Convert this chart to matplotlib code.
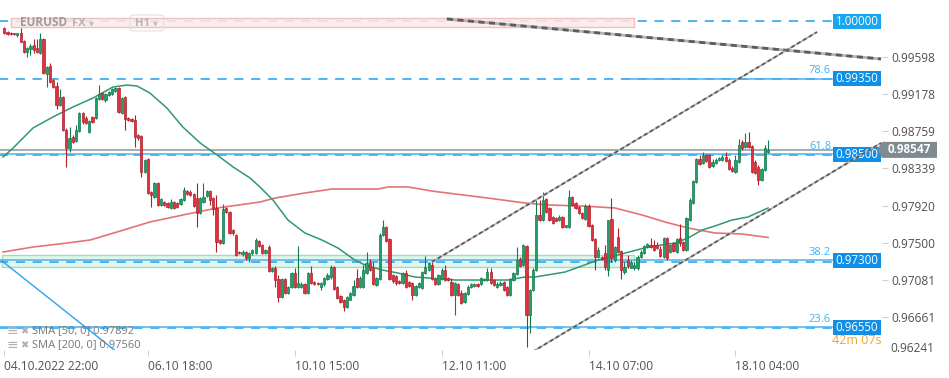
import matplotlib
matplotlib.use('Agg')

import matplotlib.pyplot as plt
import matplotlib.transforms as mtransforms
from matplotlib.patches import Rectangle, Polygon, FancyBboxPatch

plt.rcParams['font.family'] = ['Open Sans', 'DejaVu Sans']

# ---------------------------------------------------------------------------
# EURUSD H1 candles, one entry per hour
# ---------------------------------------------------------------------------
opens = [
    0.9992, 0.9988, 0.9986, 0.9986, 0.9984, 0.9986, 0.9977, 0.9965, 0.9968, 0.9973,
    0.9970, 0.9964, 0.9980, 0.9940, 0.9949, 0.9934, 0.9927, 0.9905, 0.9914, 0.9877,
    0.9857, 0.9869, 0.9865, 0.9876, 0.9896, 0.9891, 0.9875, 0.9892, 0.9891, 0.9912,
    0.9919, 0.9911, 0.9917, 0.9918, 0.9921, 0.9924, 0.9896, 0.9914, 0.9891, 0.9890,
    0.9888, 0.9872, 0.9870, 0.9830, 0.9844, 0.9807, 0.9802, 0.9817, 0.9793, 0.9796,
    0.9795, 0.9789, 0.9796, 0.9795, 0.9794, 0.9798, 0.9808, 0.9807, 0.9805, 0.9801,
    0.9784, 0.9796, 0.9803, 0.9808, 0.9801, 0.9789, 0.9753, 0.9750, 0.9789, 0.9785,
    0.9764, 0.9759, 0.9740, 0.9737, 0.9740, 0.9733, 0.9739, 0.9739, 0.9752, 0.9748,
    0.9739, 0.9745, 0.9718, 0.9722, 0.9709, 0.9689, 0.9709, 0.9693, 0.9700, 0.9716,
    0.9700, 0.9700, 0.9704, 0.9693, 0.9716, 0.9706, 0.9705, 0.9700, 0.9704, 0.9709,
    0.9711, 0.9723, 0.9700, 0.9690, 0.9686, 0.9678, 0.9686, 0.9691, 0.9710, 0.9700,
    0.9700, 0.9716, 0.9727, 0.9722, 0.9702, 0.9709, 0.9759, 0.9768, 0.9754, 0.9714,
    0.9713, 0.9707, 0.9705, 0.9716, 0.9706, 0.9705, 0.9691, 0.9700, 0.9699, 0.9716,
    0.9719, 0.9725, 0.9709, 0.9704, 0.9709, 0.9719, 0.9710, 0.9706, 0.9691, 0.9704,
    0.9693, 0.9683, 0.9692, 0.9700, 0.9701, 0.9704, 0.9704, 0.9708, 0.9708, 0.9717,
    0.9708, 0.9700, 0.9702, 0.9706, 0.9700, 0.9691, 0.9708, 0.9715, 0.9732, 0.9725,
    0.9746, 0.9669, 0.9697, 0.9719, 0.9781, 0.9776, 0.9799, 0.9789, 0.9779, 0.9778,
    0.9776, 0.9779, 0.9768, 0.9768, 0.9802, 0.9795, 0.9790, 0.9784, 0.9777, 0.9792,
    0.9770, 0.9754, 0.9734, 0.9734, 0.9739, 0.9719, 0.9777, 0.9731, 0.9757, 0.9741,
    0.9717, 0.9731, 0.9722, 0.9722, 0.9721, 0.9734, 0.9739, 0.9745, 0.9748, 0.9748,
    0.9748, 0.9743, 0.9734, 0.9755, 0.9740, 0.9750, 0.9740, 0.9755, 0.9751, 0.9742,
    0.9776, 0.9795, 0.9819, 0.9844, 0.9840, 0.9849, 0.9849, 0.9836, 0.9840, 0.9843,
    0.9843, 0.9847, 0.9843, 0.9834, 0.9830, 0.9841, 0.9864, 0.9858, 0.9864, 0.9859,
    0.9841, 0.9835, 0.9821, 0.9832, 0.9852,
]
highs = [
    0.9993, 0.9989, 0.9988, 0.9986, 0.9986, 0.9992, 0.9979, 0.9971, 0.9974, 0.9980,
    0.9980, 0.9986, 0.9981, 0.9949, 0.9953, 0.9935, 0.9931, 0.9923, 0.9915, 0.9879,
    0.9881, 0.9872, 0.9883, 0.9897, 0.9897, 0.9893, 0.9888, 0.9893, 0.9914, 0.9928,
    0.9920, 0.9919, 0.9921, 0.9924, 0.9926, 0.9926, 0.9914, 0.9915, 0.9892, 0.9891,
    0.9894, 0.9873, 0.9872, 0.9844, 0.9846, 0.9808, 0.9819, 0.9819, 0.9801, 0.9797,
    0.9796, 0.9799, 0.9797, 0.9796, 0.9801, 0.9813, 0.9810, 0.9810, 0.9806, 0.9817,
    0.9802, 0.9817, 0.9810, 0.9810, 0.9802, 0.9804, 0.9754, 0.9794, 0.9790, 0.9786,
    0.9766, 0.9760, 0.9741, 0.9742, 0.9741, 0.9740, 0.9743, 0.9755, 0.9753, 0.9749,
    0.9743, 0.9748, 0.9723, 0.9724, 0.9714, 0.9710, 0.9710, 0.9701, 0.9717, 0.9722,
    0.9746, 0.9706, 0.9705, 0.9717, 0.9724, 0.9707, 0.9706, 0.9706, 0.9711, 0.9716,
    0.9725, 0.9724, 0.9701, 0.9691, 0.9687, 0.9690, 0.9695, 0.9708, 0.9720, 0.9713,
    0.9725, 0.9740, 0.9732, 0.9728, 0.9711, 0.9761, 0.9776, 0.9769, 0.9755, 0.9715,
    0.9714, 0.9708, 0.9717, 0.9719, 0.9707, 0.9706, 0.9702, 0.9706, 0.9718, 0.9735,
    0.9728, 0.9728, 0.9710, 0.9715, 0.9722, 0.9725, 0.9711, 0.9710, 0.9706, 0.9705,
    0.9697, 0.9695, 0.9702, 0.9705, 0.9705, 0.9705, 0.9711, 0.9710, 0.9722, 0.9722,
    0.9709, 0.9706, 0.9707, 0.9707, 0.9701, 0.9710, 0.9717, 0.9745, 0.9734, 0.9749,
    0.9748, 0.9698, 0.9722, 0.9798, 0.9798, 0.9807, 0.9801, 0.9790, 0.9780, 0.9779,
    0.9781, 0.9780, 0.9770, 0.9810, 0.9803, 0.9796, 0.9792, 0.9785, 0.9794, 0.9794,
    0.9771, 0.9755, 0.9745, 0.9735, 0.9748, 0.9776, 0.9801, 0.9746, 0.9767, 0.9742,
    0.9728, 0.9736, 0.9731, 0.9728, 0.9736, 0.9742, 0.9748, 0.9750, 0.9755, 0.9753,
    0.9751, 0.9746, 0.9757, 0.9757, 0.9749, 0.9751, 0.9755, 0.9771, 0.9752, 0.9779,
    0.9800, 0.9821, 0.9846, 0.9849, 0.9852, 0.9850, 0.9850, 0.9844, 0.9846, 0.9847,
    0.9849, 0.9852, 0.9846, 0.9837, 0.9849, 0.9867, 0.9866, 0.9874, 0.9875, 0.9860,
    0.9843, 0.9838, 0.9834, 0.9860, 0.9866,
]
lows = [
    0.9985, 0.9984, 0.9984, 0.9984, 0.9982, 0.9976, 0.9964, 0.9959, 0.9962, 0.9964,
    0.9964, 0.9963, 0.9940, 0.9926, 0.9930, 0.9924, 0.9901, 0.9904, 0.9876, 0.9835,
    0.9852, 0.9863, 0.9864, 0.9875, 0.9884, 0.9884, 0.9874, 0.9885, 0.9890, 0.9911,
    0.9911, 0.9909, 0.9915, 0.9917, 0.9920, 0.9896, 0.9895, 0.9877, 0.9887, 0.9886,
    0.9858, 0.9866, 0.9824, 0.9829, 0.9805, 0.9790, 0.9801, 0.9792, 0.9792, 0.9792,
    0.9789, 0.9788, 0.9788, 0.9789, 0.9793, 0.9797, 0.9804, 0.9803, 0.9790, 0.9768,
    0.9782, 0.9795, 0.9802, 0.9793, 0.9781, 0.9740, 0.9749, 0.9749, 0.9784, 0.9760,
    0.9759, 0.9735, 0.9737, 0.9735, 0.9731, 0.9728, 0.9736, 0.9737, 0.9745, 0.9737,
    0.9737, 0.9717, 0.9717, 0.9700, 0.9683, 0.9688, 0.9692, 0.9692, 0.9699, 0.9699,
    0.9699, 0.9699, 0.9692, 0.9692, 0.9704, 0.9702, 0.9702, 0.9697, 0.9701, 0.9708,
    0.9709, 0.9697, 0.9687, 0.9682, 0.9673, 0.9677, 0.9685, 0.9690, 0.9699, 0.9699,
    0.9699, 0.9715, 0.9718, 0.9702, 0.9701, 0.9708, 0.9758, 0.9751, 0.9708, 0.9705,
    0.9702, 0.9704, 0.9704, 0.9699, 0.9700, 0.9686, 0.9690, 0.9699, 0.9698, 0.9715,
    0.9718, 0.9708, 0.9702, 0.9702, 0.9708, 0.9707, 0.9707, 0.9690, 0.9669, 0.9690,
    0.9681, 0.9682, 0.9691, 0.9699, 0.9700, 0.9700, 0.9702, 0.9707, 0.9707, 0.9704,
    0.9701, 0.9699, 0.9701, 0.9696, 0.9690, 0.9690, 0.9707, 0.9714, 0.9723, 0.9724,
    0.9633, 0.9648, 0.9696, 0.9718, 0.9775, 0.9775, 0.9784, 0.9775, 0.9771, 0.9774,
    0.9775, 0.9767, 0.9767, 0.9767, 0.9792, 0.9788, 0.9782, 0.9777, 0.9776, 0.9768,
    0.9752, 0.9719, 0.9733, 0.9731, 0.9719, 0.9713, 0.9728, 0.9728, 0.9739, 0.9709,
    0.9715, 0.9722, 0.9721, 0.9719, 0.9719, 0.9733, 0.9737, 0.9744, 0.9744, 0.9741,
    0.9743, 0.9734, 0.9733, 0.9731, 0.9739, 0.9740, 0.9739, 0.9746, 0.9741, 0.9741,
    0.9775, 0.9794, 0.9817, 0.9838, 0.9839, 0.9841, 0.9834, 0.9835, 0.9839, 0.9842,
    0.9842, 0.9841, 0.9832, 0.9830, 0.9829, 0.9840, 0.9855, 0.9857, 0.9857, 0.9829,
    0.9828, 0.9815, 0.9820, 0.9831, 0.9851,
]
closes = [
    0.9986, 0.9985, 0.9985, 0.9985, 0.9986, 0.9976, 0.9965, 0.9970, 0.9972, 0.9967,
    0.9965, 0.9980, 0.9941, 0.9948, 0.9931, 0.9926, 0.9905, 0.9914, 0.9877, 0.9857,
    0.9868, 0.9864, 0.9877, 0.9896, 0.9886, 0.9885, 0.9887, 0.9886, 0.9913, 0.9918,
    0.9912, 0.9918, 0.9920, 0.9923, 0.9924, 0.9897, 0.9913, 0.9890, 0.9888, 0.9887,
    0.9869, 0.9868, 0.9830, 0.9843, 0.9806, 0.9804, 0.9817, 0.9793, 0.9799, 0.9793,
    0.9790, 0.9796, 0.9789, 0.9790, 0.9799, 0.9810, 0.9805, 0.9804, 0.9792, 0.9784,
    0.9801, 0.9802, 0.9808, 0.9798, 0.9788, 0.9751, 0.9750, 0.9788, 0.9785, 0.9761,
    0.9761, 0.9736, 0.9739, 0.9740, 0.9733, 0.9739, 0.9742, 0.9753, 0.9746, 0.9739,
    0.9742, 0.9718, 0.9722, 0.9708, 0.9689, 0.9709, 0.9693, 0.9700, 0.9716, 0.9700,
    0.9705, 0.9704, 0.9693, 0.9716, 0.9705, 0.9704, 0.9704, 0.9705, 0.9710, 0.9714,
    0.9723, 0.9698, 0.9688, 0.9683, 0.9678, 0.9689, 0.9693, 0.9701, 0.9700, 0.9710,
    0.9719, 0.9727, 0.9719, 0.9704, 0.9710, 0.9759, 0.9768, 0.9752, 0.9709, 0.9707,
    0.9705, 0.9705, 0.9716, 0.9700, 0.9701, 0.9691, 0.9701, 0.9705, 0.9717, 0.9723,
    0.9727, 0.9709, 0.9704, 0.9714, 0.9719, 0.9708, 0.9708, 0.9691, 0.9705, 0.9691,
    0.9682, 0.9693, 0.9700, 0.9704, 0.9704, 0.9701, 0.9710, 0.9709, 0.9717, 0.9705,
    0.9702, 0.9704, 0.9705, 0.9697, 0.9691, 0.9709, 0.9716, 0.9730, 0.9724, 0.9748,
    0.9669, 0.9697, 0.9719, 0.9781, 0.9776, 0.9798, 0.9785, 0.9776, 0.9772, 0.9775,
    0.9779, 0.9768, 0.9770, 0.9802, 0.9793, 0.9789, 0.9784, 0.9778, 0.9792, 0.9769,
    0.9753, 0.9734, 0.9742, 0.9732, 0.9723, 0.9776, 0.9733, 0.9745, 0.9740, 0.9719,
    0.9723, 0.9724, 0.9728, 0.9725, 0.9734, 0.9740, 0.9746, 0.9749, 0.9745, 0.9742,
    0.9744, 0.9735, 0.9755, 0.9733, 0.9748, 0.9741, 0.9754, 0.9750, 0.9742, 0.9778,
    0.9798, 0.9820, 0.9844, 0.9839, 0.9849, 0.9842, 0.9835, 0.9841, 0.9843, 0.9846,
    0.9847, 0.9842, 0.9833, 0.9831, 0.9843, 0.9860, 0.9857, 0.9864, 0.9858, 0.9830,
    0.9829, 0.9821, 0.9833, 0.9857, 0.98547,
]

# moving averages, read at a few candle positions (index, price)
sma50_idx = [-0.4, 2.7, 8.8, 14.9, 21.0, 27.2, 33.3, 37.6, 40.7, 44.6, 49.8, 54.7,
             60.0, 65.2, 70.1, 75.3, 78.3, 82.3, 86.9, 92.1, 97.3, 102.2, 107.4,
             110.5, 115.7, 120.6, 125.8, 129.8, 138.1, 148.2, 154.3, 159.5, 162.6,
             171.8, 181.9, 190.2, 197.2, 205.5, 209.5, 213.8, 217.7, 222.9, 227.8, 234.0]
sma50_val = [0.98467, 0.98568, 0.98794, 0.98918, 0.99030, 0.99132, 0.99256, 0.99278,
             0.99267, 0.99188, 0.99019, 0.98805, 0.98625, 0.98489, 0.98354, 0.98230,
             0.98129, 0.97982, 0.97756, 0.97610, 0.97531, 0.97441, 0.97305, 0.97249,
             0.97193, 0.97159, 0.97114, 0.97103, 0.97080, 0.97080, 0.97080, 0.97114,
             0.97114, 0.97170, 0.97305, 0.97384, 0.97452, 0.97497, 0.97554, 0.97644,
             0.97689, 0.97756, 0.97790, 0.97892]
sma200_idx = [-0.4, 8.8, 19.2, 26.3, 34.5, 44.6, 54.7, 65.2, 78.3, 82.9, 92.1, 100.4,
              114.5, 117.6, 123.7, 131.0, 138.1, 148.2, 159.5, 166.6, 177.0, 187.1,
              195.4, 202.4, 209.5, 217.7, 226.0, 234.0]
sma200_val = [0.97396, 0.97452, 0.97497, 0.97531, 0.97621, 0.97734, 0.97813, 0.97892,
              0.97959, 0.98004, 0.98061, 0.98106, 0.98106, 0.98129, 0.98129, 0.98083,
              0.98050, 0.98004, 0.97948, 0.97926, 0.97914, 0.97892, 0.97813, 0.97734,
              0.97666, 0.97610, 0.97599, 0.97560]

# levels and drawings
fib_pcts = ['23.6', '38.2', '61.8', '78.6']
fib_levels = [0.96550, 0.97300, 0.98500, 0.99350]
fib_start = [-2, -2, -2, 190]          # where each solid fib line starts
top_level = 1.00000
dashed_levels = [1.00000, 0.99350, 0.98495, 0.97280, 0.96535]
last_price = 0.98547

down_line = ([135.6, 268.6], [1.00023, 0.99572])
chan_upper = ([131.0, 249.0], [0.97283, 0.99876])
chan_lower = ([161.7, 268.6], [0.96268, 0.98625])
blue_line = ([-0.7, 34.5], [0.97294, 0.96268])
green_zone = (-0.7, 192.9, 0.97227, 0.97362)
pink_zone = (2.05, 192.9, 0.99932, 1.00034)

y_ticks = [0.99598, 0.99178, 0.98759, 0.98339, 0.97920, 0.97500, 0.97081, 0.96661]
y_tick_bottom = '0.96241'
x_tick_idx = [0, 44, 89, 134, 179, 224]
x_tick_labels = ['04.10.2022 22:00', '06.10 18:00', '10.10 15:00',
                 '12.10 11:00', '14.10 07:00', '18.10 04:00']
legend_rows = ['SMA [50, 0] 0.97892', 'SMA [200, 0] 0.97560']

# ---------------------------------------------------------------------------
W, H = 949, 378
fig = plt.figure(figsize=(W / 100, H / 100), dpi=100)
ax = fig.add_axes([0, 28 / H, 882 / W, 350 / H])
ax.set_xlim(-1.317, 268.9)
ax.set_ylim(0.96291, 1.002368)
for s in ax.spines.values():
    s.set_visible(False)

px_y = (1.002368 - 0.96291) / 350      # price per pixel
trans = mtransforms.blended_transform_factory(ax.transAxes, ax.transData)
box_l, box_r = 833 / 882, 881 / 882

# zones
gx0, gx1, gy0, gy1 = green_zone
ax.add_patch(Rectangle((gx0, gy0), gx1 - gx0, gy1 - gy0, facecolor='#e3f6ee',
                       edgecolor='#9fdcc0', lw=1, zorder=1))

# horizontal levels
for lv in dashed_levels:
    ax.plot([-2, 253.6], [lv, lv], color='#1fa0ee', lw=1.1,
            linestyle=(0, (6, 5)), zorder=2)
for lv, x0 in zip(fib_levels, fib_start):
    ax.plot([x0, 253.6], [lv, lv], color='#47b2f2', lw=1.1, zorder=2)
ax.axhline(last_price, color='#8c969b', lw=1.1, zorder=2)

# pink header zone on top of the 1.0 line
px0, px1, py0, py1 = pink_zone
ax.add_patch(Rectangle((px0, py0), px1 - px0, py1 - py0, facecolor='#fde9e9',
                       edgecolor='#f6b4b4', lw=1, alpha=0.85, zorder=3))

# SMAs
ax.plot(sma200_idx, sma200_val, color='#e25b5b', lw=1.2, alpha=0.85, zorder=3)
ax.plot(sma50_idx, sma50_val, color='#2f9a6c', lw=1.1, zorder=3)

# candles
for i, (o, h, l, c) in enumerate(zip(opens, highs, lows, closes)):
    up = c >= o
    face = '#22a06a' if up else '#e3303d'
    edge = '#137a4c' if up else '#b0202c'
    ax.vlines(i, l, h, color=edge, lw=0.8, zorder=4)
    ax.bar(i, max(abs(c - o), 0.00005), bottom=min(o, c), width=0.68,
           color=face, edgecolor=edge, linewidth=0.5, zorder=5)

# countdown text, just under the 23.6 box
ax.text(857 / 882, fib_levels[0] - 13.5 * px_y, '42m 07s', transform=trans,
        ha='center', va='center', color='#f5a02a', fontsize=9, zorder=6)

# level boxes
for lv, col in zip([top_level] + fib_levels, ['#17a6ef'] + ['#108fe6'] * 4):
    ax.add_patch(Rectangle((box_l, lv - 7.5 * px_y), box_r - box_l, 15 * px_y,
                           transform=trans, facecolor=col, edgecolor='none', zorder=7))
    ax.text((box_l + box_r) / 2, lv, f'{lv:.5f}', transform=trans, ha='center',
            va='center', color='white', fontsize=8.3, zorder=8)
for lv, pct in zip(fib_levels, fib_pcts):
    ax.text(831 / 882, lv + 8 * px_y, pct, transform=trans, ha='right',
            va='center', color='#3db4f4', fontsize=8, zorder=8)

# last price tag
tag = Polygon([(877 / 882, last_price), (882 / 882, last_price + 8 * px_y),
               (937 / 882, last_price + 8 * px_y), (937 / 882, last_price - 8 * px_y),
               (882 / 882, last_price - 8 * px_y)], closed=True, transform=trans,
              facecolor='#7f8b90', edgecolor='none', clip_on=False, zorder=7)
ax.add_patch(tag)
ax.text(909 / 882, last_price, f'{last_price:.5f}', transform=trans, ha='center',
        va='center', color='white', fontsize=8.5, fontweight='bold', clip_on=False, zorder=8)


# trend lines (two tone dashed)
def trend(xs, ys, lw):
    ax.plot(xs, ys, color='#b4b4b4', lw=lw, zorder=9, solid_capstyle='butt')
    ax.plot(xs, ys, color='#5c5c5c', lw=lw, linestyle=(0, (2.2, 1.6)), zorder=9)


trend(*down_line, 2.0)
trend(*chan_upper, 1.3)
trend(*chan_lower, 1.3)
ax.plot(*blue_line, color='#29a3f0', lw=1.0, zorder=9)

# axes ticks
ax.yaxis.tick_right()
ax.set_yticks(y_ticks)
ax.set_yticklabels([f'{v:.5f}' for v in y_ticks])
ax.set_xticks(x_tick_idx)
ax.set_xticklabels(x_tick_labels)
for lbl in ax.get_xticklabels():
    lbl.set_ha('left')
ax.tick_params(axis='y', length=4, width=0.8, color='#d0d0d0', pad=3,
               labelsize=8.6, labelcolor='#505050')
ax.tick_params(axis='x', length=4, width=0.8, color='#d0d0d0', pad=3,
               labelsize=8.6, labelcolor='#505050')
fig.text(890 / W, 1 - 349 / H, y_tick_bottom, ha='left', va='center',
         fontsize=8.6, color='#505050')

# header (faded UI)
fig.text(20 / W, 1 - 23 / H, 'EURUSD', ha='left', va='center', fontsize=8.5,
         fontweight='bold', color='#9c9c9c')
fig.text(72 / W, 1 - 23 / H, 'FX', ha='left', va='center', fontsize=8,
         fontweight='bold', color='#b5b5b5')
fig.text(89 / W, 1 - 23 / H, '▾', ha='left', va='center', fontsize=7, color='#c0c0c0',
         family=['DejaVu Sans'])
fig.patches.append(FancyBboxPatch((130 / W, 1 - 31 / H), 34 / W, 16 / H,
                                  boxstyle='round,pad=0,rounding_size=0.006',
                                  transform=fig.transFigure, facecolor='none',
                                  edgecolor='#e0e0e0', lw=0.8))
fig.text(135 / W, 1 - 23 / H, 'H1', ha='left', va='center', fontsize=8,
         fontweight='bold', color='#b5b5b5')
fig.text(153 / W, 1 - 23 / H, '▾', ha='left', va='center', fontsize=7, color='#c0c0c0',
         family=['DejaVu Sans'])

# indicator legend
for row, py in zip(legend_rows, [331, 345]):
    fig.text(7 / W, 1 - py / H, '≡', ha='left', va='center', fontsize=10,
             color='#b0b0b0', family=['DejaVu Sans'])
    fig.text(20 / W, 1 - py / H, '✖', ha='left', va='center', fontsize=7,
             color='#b0b0b0', family=['DejaVu Sans'])
    fig.text(32 / W, 1 - py / H, row, ha='left', va='center', fontsize=8,
             color='#777777')

fig.savefig('out.png', dpi=100, facecolor='white')
